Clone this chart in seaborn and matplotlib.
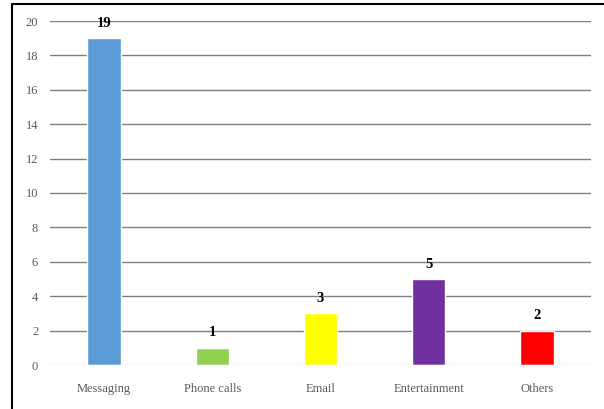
import matplotlib
matplotlib.use("Agg")
import matplotlib.pyplot as plt
from matplotlib.lines import Line2D
import seaborn as sns
import pandas as pd

categories = ["Messaging", "Phone calls", "Email", "Entertainment", "Others"]
counts = [19, 1, 3, 5, 2]
colors = ["#5B9BD5", "#92D050", "#FFFF00", "#7030A0", "#FF0000"]
y_ticks = list(range(0, 21, 2))

sns.set_theme(style="white")
plt.rcParams["font.family"] = ["Liberation Serif", "DejaVu Serif"]

df = pd.DataFrame({"category": categories, "count": counts})

fig = plt.figure(figsize=(6.04, 4.09), dpi=100)
ax = fig.add_axes([50 / 604, 1 - 365 / 409, 541 / 604, (365 - 21) / 409])

sns.barplot(data=df, x="category", y="count", hue="category",
            palette=colors, width=0.31, legend=False, ax=ax, zorder=3,
            saturation=1)

ax.set_ylim(0, 20)
ax.set_xlim(-0.5, len(categories) - 0.5)
ax.set_yticks(y_ticks)
ax.set_yticklabels([str(t) for t in y_ticks])
for t in y_ticks[1:]:
    ax.axhline(t, color="#7F7F7F", lw=1.0, zorder=1)
ax.axhline(0, color="#D9D9D9", lw=1.0, zorder=4)

for s in ax.spines.values():
    s.set_visible(False)
ax.tick_params(axis="y", length=0, pad=8.5, labelsize=9, labelcolor="#595959")
ax.tick_params(axis="x", length=0, pad=13, labelsize=9, labelcolor="#595959")
ax.set_xlabel("")
ax.set_ylabel("")

for i, v in enumerate(counts):
    ax.annotate(str(v), (i, v), xytext=(0, 6), textcoords="offset points",
                ha="center", va="bottom", fontsize=10.5, fontweight="bold",
                color="black", zorder=5)

# chart frame (left and top edges)
fig.add_artist(Line2D([12 / 604, 12 / 604], [0, 1 - 4 / 409],
                      transform=fig.transFigure, color="black", lw=1.5))
fig.add_artist(Line2D([12 / 604, 1], [1 - 4 / 409, 1 - 4 / 409],
                      transform=fig.transFigure, color="black", lw=1.5))

fig.savefig("out.png", dpi=100, facecolor="white")
